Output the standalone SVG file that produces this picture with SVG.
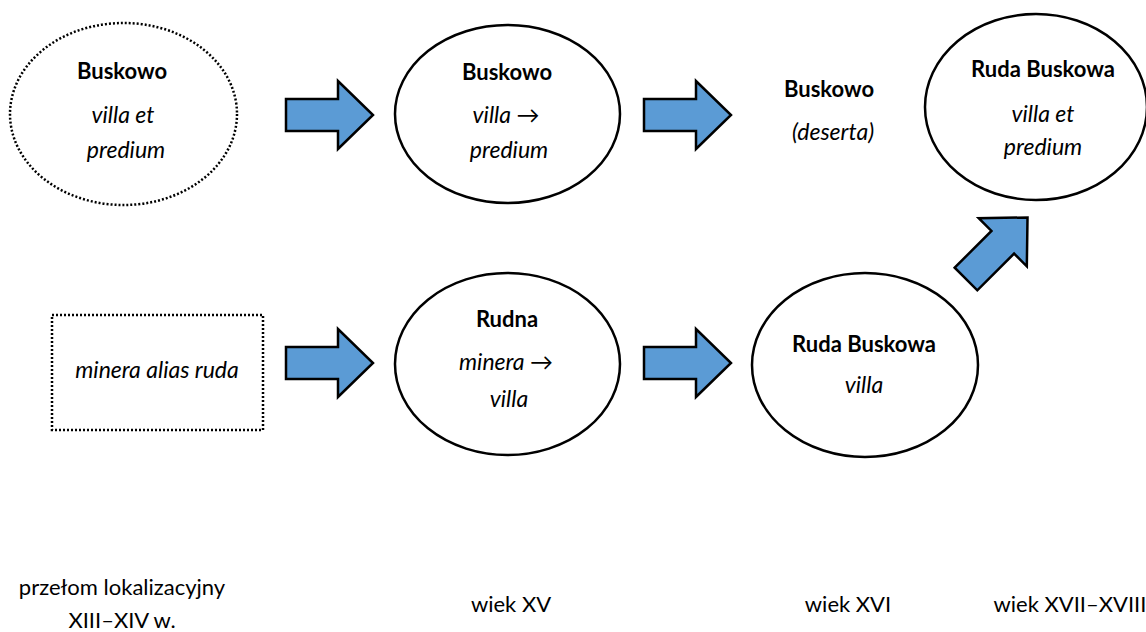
<svg xmlns="http://www.w3.org/2000/svg" width="1146" height="632" viewBox="0 0 1146 632">
<style>
  .bg{fill:#ffffff}
  .node{fill:#ffffff;stroke:#000000;stroke-width:2.5}
  .dotted{fill:#ffffff;stroke:#000000;stroke-width:2.5;stroke-dasharray:2 2}
  .arrow{fill:#5B9BD5;stroke:#000000;stroke-width:2.5;stroke-linejoin:miter}
  text{font-family:Lato,"Open Sans","Liberation Sans",sans-serif;font-size:22px;fill:#000000;text-anchor:middle}
  .b{font-weight:bold}
  .i{font-style:italic;font-size:23px}
</style>
<defs>
  <path id="arr" d="M0,-16 L52,-16 L52,-34 L87,0 L52,34 L52,16 L0,16 Z"/>
</defs>
<rect class="bg" x="0" y="0" width="1146" height="632"/>

<g id="n1">
  <ellipse class="dotted" cx="123.5" cy="114" rx="113.5" ry="91"/>
  <text class="b" x="122" y="79">Buskowo</text>
  <text class="i" x="123" y="123">villa et</text>
  <text class="i" x="126" y="158">predium</text>
</g>
<g id="n2">
  <ellipse class="node" cx="507.5" cy="114" rx="112.5" ry="89"/>
  <text class="b" x="507" y="80">Buskowo</text>
  <text class="i" x="506" y="123">villa →</text>
  <text class="i" x="509" y="158">predium</text>
</g>
<g id="n3">
  <text class="b" x="829" y="97">Buskowo</text>
  <text class="i" x="833" y="140">(deserta)</text>
</g>
<g id="n4">
  <ellipse class="node" cx="1036" cy="107" rx="111" ry="93"/>
  <text class="b" x="1043" y="77">Ruda Buskowa</text>
  <text class="i" x="1043" y="122">villa et</text>
  <text class="i" x="1043" y="155">predium</text>
</g>
<g id="n5">
  <rect class="dotted" x="52" y="315" width="211" height="115"/>
  <text class="i" x="157" y="378">minera alias ruda</text>
</g>
<g id="n6">
  <ellipse class="node" cx="507.5" cy="364" rx="112.5" ry="91"/>
  <text class="b" x="507" y="327">Rudna</text>
  <text class="i" x="506" y="370">minera →</text>
  <text class="i" x="509" y="407">villa</text>
</g>
<g id="n7">
  <ellipse class="node" cx="865" cy="365" rx="113" ry="92"/>
  <text class="b" x="864" y="352">Ruda Buskowa</text>
  <text class="i" x="864" y="393">villa</text>
</g>

<g id="connectors">
  <use href="#arr" class="arrow" transform="translate(286,115)"/>
  <use href="#arr" class="arrow" transform="translate(644,115)"/>
  <use href="#arr" class="arrow" transform="translate(286,363)"/>
  <use href="#arr" class="arrow" transform="translate(644,363)"/>
  <use href="#arr" class="arrow" transform="translate(966,279) rotate(-45)"/>
</g>

<g id="labels">
  <text x="122" y="595">przełom lokalizacyjny</text>
  <text x="122" y="628">XIII–XIV w.</text>
  <text x="511" y="612">wiek XV</text>
  <text x="848" y="612">wiek XVI</text>
  <text x="1070" y="612">wiek XVII–XVIII</text>
</g>
</svg>
